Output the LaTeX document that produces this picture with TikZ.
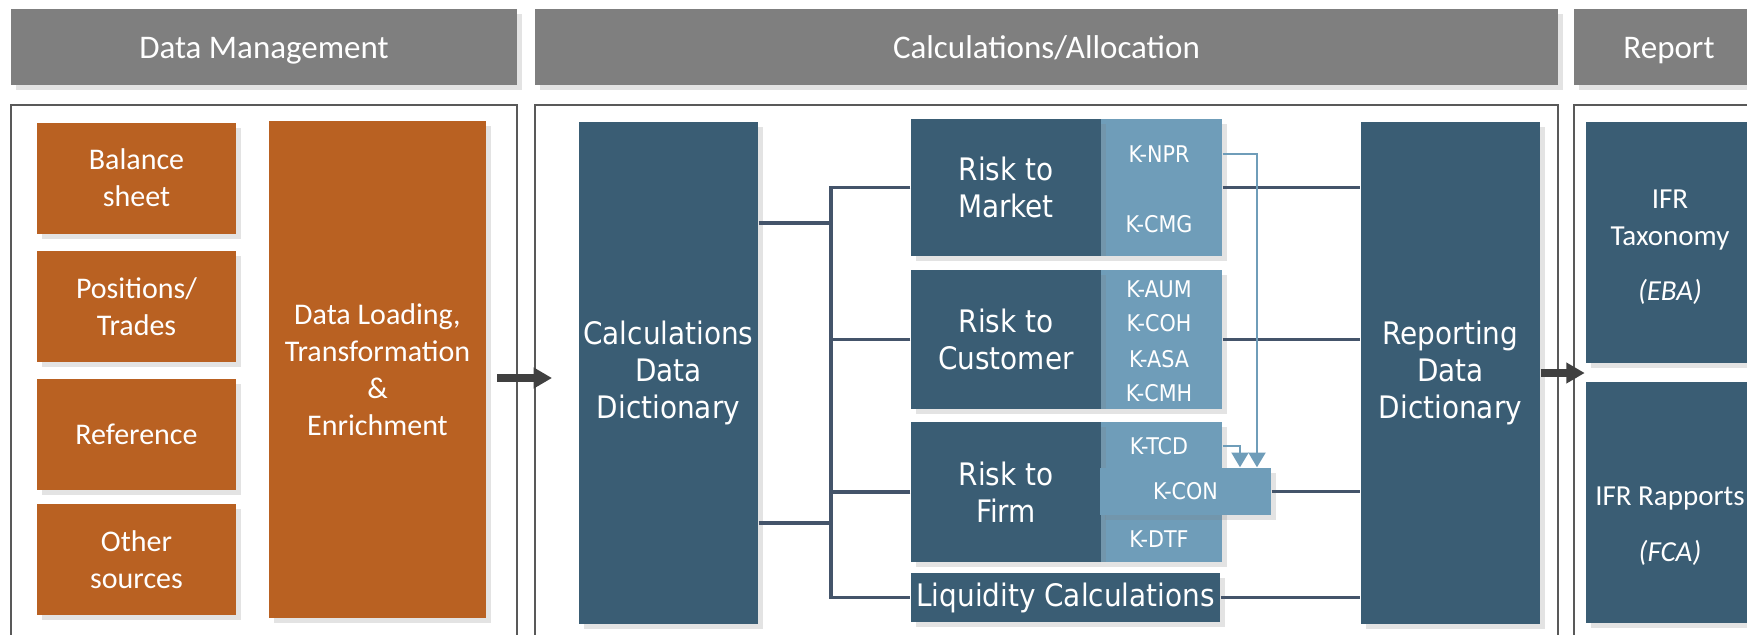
\documentclass[tikz,border=0pt]{standalone}
\usepackage{fontspec}
\setmainfont{Carlito}
\newfontfamily\tahfont{DejaVu Sans Condensed}
\usepackage{tikz}
\usetikzlibrary{arrows, arrows.meta, calc, shadows, positioning}
\definecolor{hdrgray}{HTML}{7F7F7F}
\definecolor{orng}{HTML}{B96122}
\definecolor{dblue}{HTML}{3A5D74}
\definecolor{lblue}{HTML}{6F9DB9}
\definecolor{connc}{HTML}{44546A}
\definecolor{arrc}{HTML}{404040}
\definecolor{pnl}{HTML}{595959}

\begin{document}
\begin{tikzpicture}[x=0.1mm, y=-0.1mm,
  sh/.style={drop shadow={shadow xshift=0.5mm, shadow yshift=-0.5mm, opacity=0.22}},
  panel/.style={draw=pnl, line width=0.6pt, fill=white},
  hdr/.style={fill=hdrgray, text=white, inner sep=0pt, minimum height=7.6mm, sh,
    text height=2.5mm, text depth=0.3mm, font=\fontsize{3.3mm}{4mm}\selectfont},
  obox/.style={fill=orng, text=white, inner sep=0pt, align=center, sh,
    font=\fontsize{3mm}{3.7mm}\selectfont},
  dbox/.style={fill=dblue, text=white, inner sep=0pt, align=center, sh,
    font=\tahfont\fontsize{3.1mm}{3.7mm}\selectfont},
  kbox/.style={fill=lblue, inner sep=0pt, sh},
  klab/.style={text=white, inner sep=0pt, font=\tahfont\fontsize{2.3mm}{2.8mm}\selectfont},
  ifrbox/.style={fill=dblue, inner sep=0pt, sh},
  ifrtxt/.style={text=white, inner sep=0pt, align=center, font=\fontsize{2.9mm}{3.7mm}\selectfont},
  conn/.style={draw=connc, line width=1.1pt},
  karr/.style={draw=lblue, line width=0.7pt, -{Triangle[length=4.2pt,width=4.8pt]}},
  bigarr/.style={draw=arrc, line width=2pt, -{Triangle[length=5.2pt,width=5.6pt]}}]
\useasboundingbox (0,0) rectangle (1747,634);
\clip (0,0) rectangle (1747,634);
\fill[white] (0,0) rectangle (1747,634);

\draw[panel] (11,105) rectangle (517,660);
\draw[panel] (535,105) rectangle (1558,660);
\draw[panel] (1574,105) rectangle (1780,660);

\node[hdr, minimum width=50.6mm] (hdrData) at (264,47) {Data Management};
\node[hdr, minimum width=102.3mm] (hdrCalc) at (1046.5,47) {Calculations/Allocation};
\node[hdr, minimum width=19mm] (hdrRep) at (1669,47) {Report};

\node[obox, minimum width=19.9mm, minimum height=11.1mm] (bs) at (136.5,178) {Balance\\sheet};
\node[obox, minimum width=19.9mm, minimum height=11.1mm] (pos) at (136.5,306.5) {Positions/\\Trades};
\node[obox, minimum width=19.9mm, minimum height=11.1mm] (ref) at (136.5,434) {Reference};
\node[obox, minimum width=19.9mm, minimum height=11.1mm] (oth) at (136.5,559.5) {Other\\sources};
\node[obox, minimum width=21.7mm, minimum height=49.7mm] (load) at (377.5,369.5) {Data Loading,\\Transformation\\\&\\Enrichment};

\node[dbox, minimum width=17.9mm, minimum height=50.2mm] (cdd) at (668.5,373) {Calculations\\Data\\Dictionary};

\node[kbox, minimum width=12.1mm, minimum height=13.7mm] (rtmk) at (1161.5,187.5) {};
\node[kbox, minimum width=12.1mm, minimum height=13.9mm] (rtck) at (1161.5,339.5) {};
\node[kbox, minimum width=12.1mm, minimum height=14mm] (rtfk) at (1161.5,492) {};
\node[dbox, minimum width=19mm, minimum height=13.7mm] (rtm) at (1006,187.5) {Risk to\\Market};
\node[dbox, minimum width=19mm, minimum height=13.9mm] (rtc) at (1006,339.5) {Risk to\\Customer};
\node[dbox, minimum width=19mm, minimum height=14mm] (rtf) at (1006,492) {Risk to\\Firm};
\node[kbox, minimum width=17.1mm, minimum height=4.7mm, klab] (kcon) at (1185.5,491.5) {K-CON};
\node[dbox, minimum width=30.9mm, minimum height=4.9mm] (liq) at (1065.5,597.5) {Liquidity Calculations};

\node[klab] (knpr) at (1159,154) {K-NPR};
\node[klab] (kcmg) at (1159,224) {K-CMG};
\node[klab] (kaum) at (1159,289) {K-AUM};
\node[klab] (kcoh) at (1159,323) {K-COH};
\node[klab] (kasa) at (1159,359) {K-ASA};
\node[klab] (kcmh) at (1159,393) {K-CMH};
\node[klab] (ktcd) at (1159,446) {K-TCD};
\node[klab] (kdtf) at (1159,539) {K-DTF};

\node[dbox, minimum width=17.9mm, minimum height=50.2mm] (rdd) at (1450.5,373) {Reporting\\Data\\Dictionary};

\node[ifrbox, minimum width=16.8mm, minimum height=24.1mm] (ifrt) at (1670,242.5) {};
\node[ifrbox, minimum width=16.8mm, minimum height=24.1mm] (ifrr) at (1670,502.5) {};
\node[ifrtxt] (ifrttxt) at (1670,247) {IFR\\Taxonomy\\[1.8mm]\textit{(EBA)}};
\node[ifrtxt] (ifrrtxt) at (1670,526) {IFR Rapports\\[1.9mm]\textit{(FCA)}};

\coordinate (bus) at (831,0);
\coordinate (cddA) at (0,223);
\coordinate (cddB) at (0,523);
\draw[conn] (rtm.west) -| (bus |- liq.west) -- (liq.west);
\draw[conn] (rtc.west) -- (bus |- rtc.west);
\draw[conn] (rtf.west) -- (bus |- rtf.west);
\draw[conn] (cdd.east |- cddA) -- (bus |- cddA);
\draw[conn] (cdd.east |- cddB) -- (bus |- cddB);

\draw[conn] (rtmk.east) -- (rdd.west |- rtmk.east);
\draw[conn] (rtck.east) -- (rdd.west |- rtck.east);
\draw[conn] (kcon.east) -- (rdd.west |- kcon.east);
\draw[conn] (liq.east) -- (rdd.west |- liq.east);

\coordinate (kx1) at (1257,0);
\coordinate (kx2) at (1240,0);
\draw[karr] (rtmk.east |- knpr) -| (kx1 |- kcon.north);
\draw[karr] (rtfk.east |- ktcd) -| (kx2 |- kcon.north);

\coordinate (a1s) at (497,378);
\coordinate (a1e) at (552,378);
\draw[bigarr] (a1s) -- (a1e);
\draw[bigarr] (rdd.east) -- ++(44,0);
\end{tikzpicture}
\end{document}
